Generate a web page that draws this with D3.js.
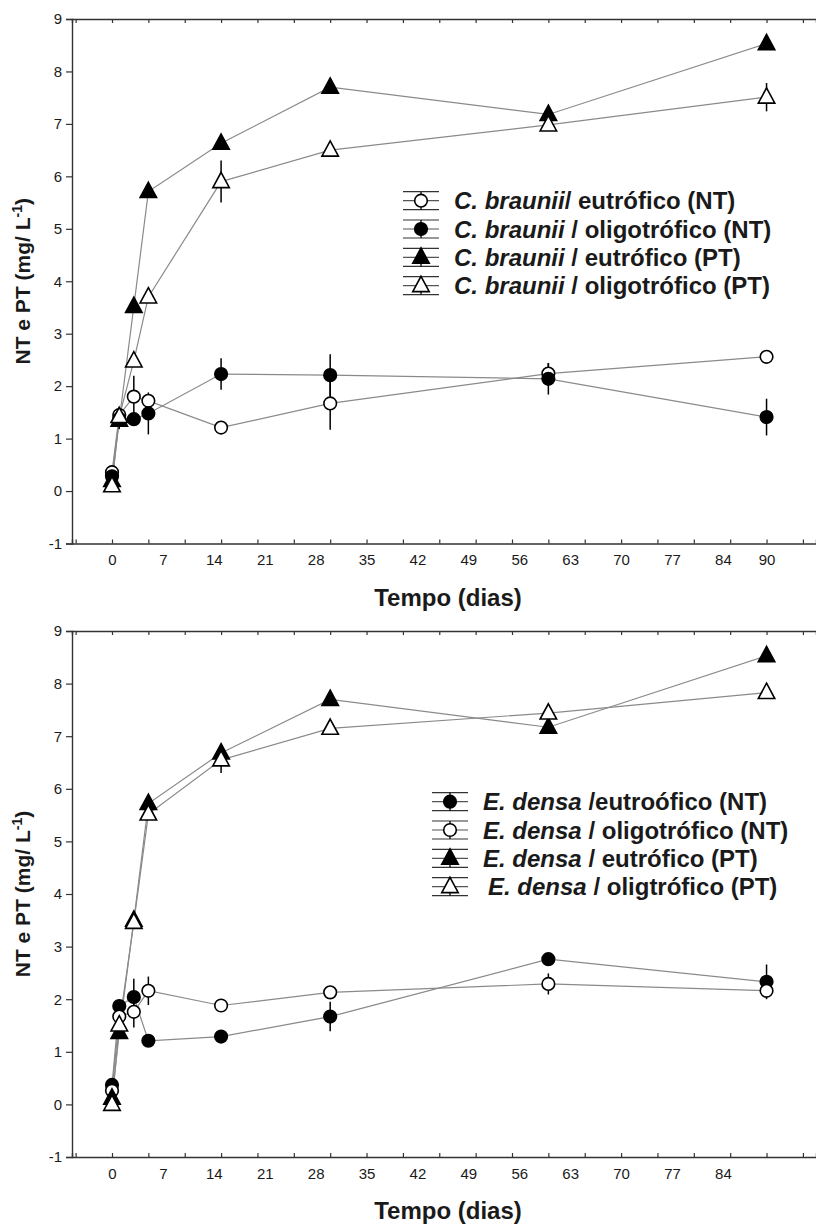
<!DOCTYPE html>
<html>
<head>
<meta charset="utf-8">
<script src="https://cdn.jsdelivr.net/npm/d3@7"></script>
<style>
  body { margin: 0; background: #fff; }
  text { font-family: Arial, "Liberation Sans", sans-serif; }
</style>
</head>
<body>
<svg id="chart" width="816" height="1227"></svg>
<script>
// Sampling days (shared by both panels).
const days = [0, 1, 3, 5, 15, 30, 60, 90];

// Axis ticks / labels.
const xTickDays = [-5, 0, 5, 10, 15, 20, 25, 30, 35, 40, 45, 50, 55, 60, 65, 70, 75, 80, 85, 90, 95];
const xLabelsTop = [0, 7, 14, 21, 28, 35, 42, 49, 56, 63, 70, 77, 84, 90];
const xLabelsBottom = [0, 7, 14, 21, 28, 35, 42, 49, 56, 63, 70, 77, 84];
const yTicks = [-1, 0, 1, 2, 3, 4, 5, 6, 7, 8, 9];

// Top panel: C. braunii.
const cbEutNT = [0.36, 1.45, 1.80, 1.72, 1.21, 1.67, 2.24, 2.56];
const cbEutNTErr = [0, 0.15, 0.4, 0, 0, 0.5, 0.2, 0];
const cbOligNT = [0.28, 1.38, 1.37, 1.48, 2.23, 2.21, 2.14, 1.41];
const cbOligNTErr = [0, 0.2, 0, 0.4, 0.3, 0.4, 0.3, 0.35];
const cbEutPT = [0.20, 1.35, 3.52, 5.71, 6.63, 7.70, 7.18, 8.53];
const cbEutPTErr = [0, 0, 0, 0, 0, 0.1, 0, 0];
const cbOligPT = [0.10, 1.42, 2.48, 3.70, 5.90, 6.50, 6.98, 7.51];
const cbOligPTErr = [0, 0, 0, 0, 0.4, 0, 0, 0.27];

// Bottom panel: E. densa.
const edEutNT = [0.37, 1.87, 2.04, 1.21, 1.29, 1.67, 2.76, 2.33];
const edEutNTErr = [0, 0, 0.35, 0, 0, 0.28, 0, 0.33];
const edOligNT = [0.26, 1.67, 1.76, 2.16, 1.88, 2.13, 2.29, 2.16];
const edOligNTErr = [0, 0, 0.3, 0.27, 0, 0, 0.2, 0];
const edEutPT = [0.12, 1.37, 3.50, 5.72, 6.68, 7.70, 7.17, 8.53];
const edEutPTErr = [0, 0, 0, 0, 0.1, 0, 0, 0];
const edOligPT = [0.00, 1.51, 3.46, 5.52, 6.55, 7.15, 7.44, 7.83];
const edOligPTErr = [0, 0, 0.1, 0, 0.25, 0, 0, 0];

const lineColor = "#8a8a8a";
const axisColor = "#333";
const textColor = "#1a1a1a";

let svg = d3.select("#chart");

// Marker shapes.
let circlePath = d3.symbol().type(d3.symbolCircle).size(Math.PI * 6.3 * 6.3);
function trianglePath(s) {
    return "M0," + (-s * 0.62) + "L" + (s * 0.55) + "," + (s * 0.4) + "L" + (-s * 0.55) + "," + (s * 0.4) + "Z";
}

function drawMarker(g, shape, filled, cx, cy) {
    g.append("path")
        .attr("d", shape === "circle" ? circlePath() : trianglePath(15))
        .attr("transform", "translate(" + cx + "," + cy + ")")
        .attr("fill", filled ? "#000" : "#fff")
        .attr("stroke", "#000")
        .attr("stroke-width", 1.6);
}

/**
 *   top, bottom: pixel range of the plot
 *   series: list of {values, errs, shape, filled, label, italic}
 *   xLabels: tick label days
 *   legendPos: {x, y} of first legend row (symbol center)
 */
function drawPanel(top, bottom, series, xLabels, legendPos) {
    let x = d3.scaleLinear().domain([-5.5, 96.8]).range([72, 816]);
    let y = d3.scaleLinear().domain([-1, 9]).range([bottom, top]);

    let g = svg.append("g");

    // Bottom axis: inside ticks every 5 days.
    g.append("g")
        .attr("transform", "translate(0," + bottom + ")")
        .call(d3.axisBottom(x).tickValues(xTickDays).tickSize(-4).tickFormat(""));
    // Labels at the weekly positions.
    let xLab = g.append("g")
        .attr("transform", "translate(0," + bottom + ")")
        .call(d3.axisBottom(x).tickValues(xLabels).tickSize(0).tickPadding(11));
    xLab.select(".domain").remove();
    xLab.selectAll("text").style("font-size", "15px").style("fill", textColor);

    // Top frame with inside ticks.
    g.append("g")
        .attr("transform", "translate(0," + top + ")")
        .call(d3.axisTop(x).tickValues(xTickDays).tickSize(-4).tickFormat(""));

    // Left axis.
    let yAxis = g.append("g")
        .attr("transform", "translate(72,0)")
        .call(d3.axisLeft(y).tickValues(yTicks).tickSize(6).tickPadding(4).tickFormat(d => String(d)));
    yAxis.selectAll("text").style("font-size", "15px").style("fill", textColor);

    g.selectAll(".domain").attr("stroke", axisColor).attr("stroke-width", 1.4);
    g.selectAll(".tick line").attr("stroke", axisColor).attr("stroke-width", 1.2);

    // Axis titles.
    g.append("text")
        .attr("x", 448)
        .attr("y", bottom + 62)
        .attr("text-anchor", "middle")
        .style("font-size", "24px")
        .style("font-weight", "bold")
        .style("fill", textColor)
        .text("Tempo (dias)");

    let yTitle = g.append("text")
        .attr("transform", "translate(30," + ((top + bottom) / 2) + ") rotate(-90)")
        .attr("text-anchor", "middle")
        .style("font-size", "21px")
        .style("font-weight", "bold")
        .style("fill", textColor);
    yTitle.append("tspan").text("NT e PT (mg/ L");
    yTitle.append("tspan").attr("baseline-shift", "super").style("font-size", "14px").text("-1");
    yTitle.append("tspan").text(")");

    let line = d3.line()
        .x((d, i) => x(days[i]))
        .y(d => y(d));

    // Connecting lines.
    series.forEach(s => {
        g.append("path")
            .attr("d", line(s.values))
            .attr("fill", "none")
            .attr("stroke", lineColor)
            .attr("stroke-width", 1.2);
    });

    // Error bars.
    series.forEach(s => {
        s.values.forEach((v, i) => {
            if (s.errs[i] <= 0) return;
            g.append("line")
                .attr("x1", x(days[i])).attr("x2", x(days[i]))
                .attr("y1", y(v - s.errs[i])).attr("y2", y(v + s.errs[i]))
                .attr("stroke", "#000")
                .attr("stroke-width", 1.5);
        });
    });

    // Markers.
    series.forEach(s => {
        s.values.forEach((v, i) => drawMarker(g, s.shape, s.filled, x(days[i]), y(v)));
    });

    // Legend.
    let rowH = 28.3;
    series.forEach((s, i) => {
        let cy = legendPos.y + i * rowH;
        let cx = legendPos.x;
        let lg = g.append("g");
        [-9, 0, 9].forEach(dy => {
            lg.append("line")
                .attr("x1", cx - 18).attr("x2", cx + 18)
                .attr("y1", cy + dy).attr("y2", cy + dy)
                .attr("stroke", dy === 0 ? "#555" : "#333")
                .attr("stroke-width", 1.2);
        });
        lg.append("line")
            .attr("x1", cx).attr("x2", cx)
            .attr("y1", cy - 9).attr("y2", cy + 9)
            .attr("stroke", "#000")
            .attr("stroke-width", 1.3);
        drawMarker(lg, s.shape, s.filled, cx, cy);

        let t = lg.append("text")
            .attr("x", cx + 33 + (s.indent || 0))
            .attr("y", cy + 8.5)
            .style("font-size", "24px")
            .style("font-weight", "bold")
            .style("fill", textColor)
            .style("white-space", "pre");
        t.append("tspan").style("font-style", "italic").text(s.italic);
        t.append("tspan").text(s.label);
    });
}

drawPanel(19, 543.5, [
    { values: cbEutNT, errs: cbEutNTErr, shape: "circle", filled: false, italic: "C. braunii", label: "/ eutrófico (NT)" },
    { values: cbOligNT, errs: cbOligNTErr, shape: "circle", filled: true, italic: "C. braunii", label: " / oligotrófico (NT)" },
    { values: cbEutPT, errs: cbEutPTErr, shape: "triangle", filled: true, italic: "C. braunii", label: " / eutrófico (PT)" },
    { values: cbOligPT, errs: cbOligPTErr, shape: "triangle", filled: false, italic: "C. braunii", label: " / oligotrófico (PT)" }
], xLabelsTop, { x: 421, y: 200.7 });

drawPanel(631, 1157, [
    { values: edEutNT, errs: edEutNTErr, shape: "circle", filled: true, italic: "E. densa", label: " /eutroófico (NT)" },
    { values: edOligNT, errs: edOligNTErr, shape: "circle", filled: false, italic: "E. densa", label: " / oligotrófico (NT)" },
    { values: edEutPT, errs: edEutPTErr, shape: "triangle", filled: true, italic: "E. densa", label: " / eutrófico (PT)" },
    { values: edOligPT, errs: edOligPTErr, shape: "triangle", filled: false, italic: "E. densa", label: " / oligtrófico (PT)", indent: 5 }
], xLabelsBottom, { x: 450, y: 801.7 });
</script>
</body>
</html>
